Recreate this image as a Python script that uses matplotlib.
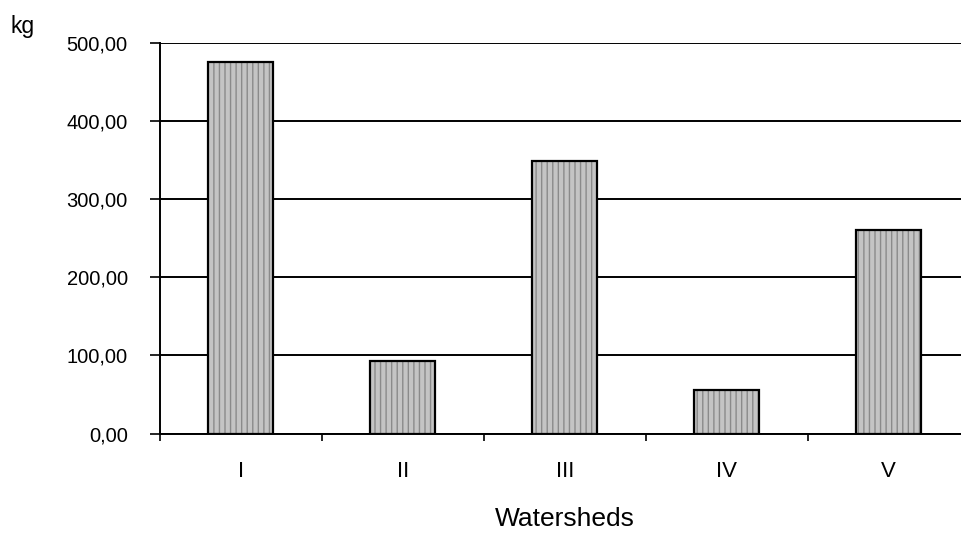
import matplotlib.pyplot as plt
import numpy as np


watersheds = ["I", "II", "III", "IV", "V"]
load_kg = [475.0, 93.0, 349.0, 56.0, 261.0]
y_ticks = [0, 100, 200, 300, 400, 500]
y_tick_labels = ["0,00", "100,00", "200,00", "300,00", "400,00", "500,00"]

BAR_FACE = "#c4c4c4"
BAR_TEXTURE = "#8a8a8a"

plt.rcParams["font.family"] = ["Liberation Sans", "DejaVu Sans"]

fig = plt.figure(figsize=(9.62, 5.36), dpi=100)
ax = fig.add_axes([0.166, 0.191, 0.842, 0.729])

x = np.arange(len(watersheds))

# textured fill first, then a clean black outline on top
ax.bar(x, load_kg, width=0.4, color=BAR_FACE, edgecolor=BAR_TEXTURE,
       hatch="|||", linewidth=0, zorder=3)
ax.bar(x, load_kg, width=0.4, fill=False, edgecolor="black",
       linewidth=1.6, zorder=4)

ax.set_xlim(-0.5, len(watersheds) - 0.5)
ax.set_ylim(0, 500)

ax.set_yticks(y_ticks)
ax.set_yticklabels(y_tick_labels, fontsize=14.5)
ax.tick_params(axis="y", direction="out", length=7, width=1.2, pad=16)

ax.set_xticks(x)
ax.set_xticklabels(watersheds, fontsize=16)
ax.tick_params(axis="x", which="major", length=0, pad=20)
ax.set_xticks(np.arange(len(watersheds) + 1) - 0.5, minor=True)
ax.tick_params(axis="x", which="minor", direction="out", length=5, width=1.2)

ax.grid(axis="y", color="black", linewidth=1.4, zorder=1)
ax.set_axisbelow(True)

for side in ["top", "right"]:
    ax.spines[side].set_visible(False)
ax.spines["left"].set_linewidth(1.4)
ax.spines["bottom"].set_linewidth(1.4)

ax.set_xlabel("Watersheds", fontsize=19, labelpad=18)
fig.text(0.011, 0.951, "kg", fontsize=16.5, ha="left", va="center")

fig.savefig("out.png", dpi=100)
